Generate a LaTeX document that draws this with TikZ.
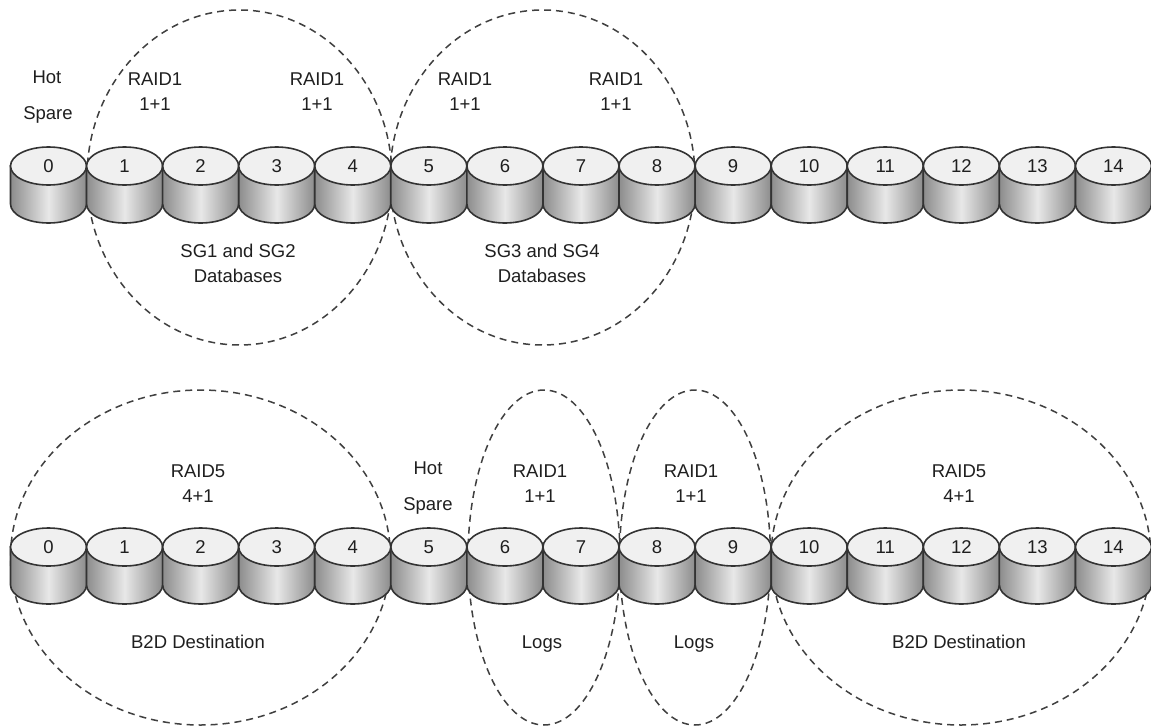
\documentclass[tikz,border=0pt]{standalone}
\usepackage{fontspec}
\setmainfont{Liberation Sans}
\definecolor{inkc}{gray}{0.2}
\tikzset{
  lbl/.style={font=\fontsize{18.5}{25}\selectfont, align=center, text=black!88, inner sep=0pt},
  ring/.style={draw=black!75, line width=1.5pt, dash pattern=on 7pt off 5pt},
  drum/.style={draw=inkc, line width=1.6pt, left color=black!45, right color=black!45, middle color=black!9},
  lid/.style={draw=inkc, line width=1.6pt, fill=black!6},
  num/.style={font=\fontsize{18.5}{20}\selectfont, text=black!88, inner sep=0pt},
}
\newcommand{\disk}[4]{% name, x, y, label
  \path[drum] (#2-38,#3) -- (#2-38,#3+38) arc[start angle=180,end angle=0,x radius=38,y radius=19] -- (#2+38,#3) -- cycle;
  \path[lid] (#2,#3) ellipse[x radius=38,y radius=19];
  \node[num] (#1) at (#2,#3) {#4};
}
\begin{document}
\begin{tikzpicture}[x=1pt,y=-1pt]
\useasboundingbox (0,0) rectangle (1151,726);
\fill[white] (0,0) rectangle (1151,726);
% rings
\draw[ring] (239.5,177.5) ellipse[x radius=152.5,y radius=167.5];
\draw[ring] (542.5,177.5) ellipse[x radius=152.5,y radius=167.5];
\draw[ring] (200.5,557.5) ellipse[x radius=190,y radius=167.5];
\draw[ring] (544,557.5) ellipse[x radius=76,y radius=167.5];
\draw[ring] (695,557.5) ellipse[x radius=75.5,y radius=167.5];
\draw[ring] (961,557.5) ellipse[x radius=190,y radius=167.5];
% disks
\foreach \i in {0,...,14}{
  \pgfmathsetmacro{\cx}{48.5+76.07*\i}
  \disk{a\i}{\cx}{166}{\i}
  \disk{b\i}{\cx}{547}{\i}
}
% labels
\node[lbl] (hot1) at (47,77) {Hot};
\node[lbl] (spare1) at (48,115) {Spare};
\node[lbl] (r1) at (155,92) {RAID1\\1+1};
\node[lbl] (r2) at (317,92) {RAID1\\1+1};
\node[lbl] (r3) at (465,92) {RAID1\\1+1};
\node[lbl] (r4) at (616,92) {RAID1\\1+1};
\node[lbl] (sg1) at (238,263) {SG1 and SG2\\Databases};
\node[lbl] (sg3) at (542,263) {SG3 and SG4\\Databases};
\node[lbl] (hot2) at (428,468) {Hot};
\node[lbl] (spare2) at (428,506) {Spare};
\node[lbl] (r5) at (198,484) {RAID5\\4+1};
\node[lbl] (r6) at (540,484) {RAID1\\1+1};
\node[lbl] (r7) at (691,484) {RAID1\\1+1};
\node[lbl] (r8) at (959,484) {RAID5\\4+1};
\node[lbl] (d1) at (198,642) {B2D Destination};
\node[lbl] (l1) at (542,644) {Logs};
\node[lbl] (l2) at (694,644) {Logs};
\node[lbl] (d2) at (959,642) {B2D Destination};
\end{tikzpicture}
\end{document}
